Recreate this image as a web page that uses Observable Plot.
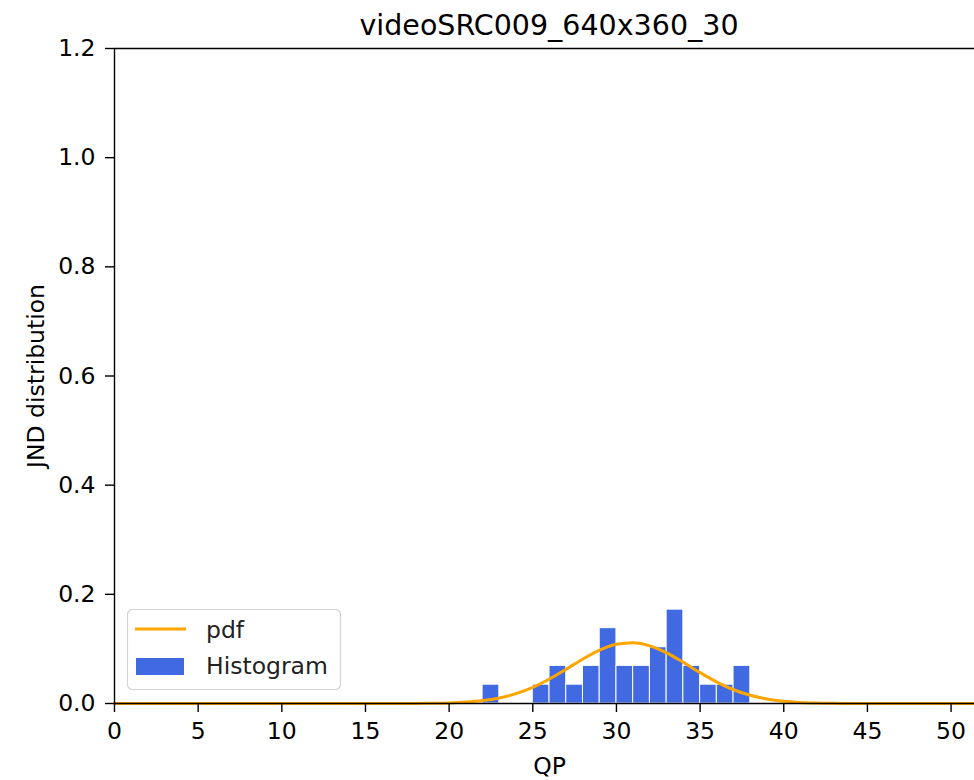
<!DOCTYPE html>
<html>
<head>
<meta charset="utf-8">
<script src="https://cdn.jsdelivr.net/npm/d3@7"></script>
<script src="https://cdn.jsdelivr.net/npm/@observablehq/plot@0.6"></script>
<style>
  html, body { margin: 0; padding: 0; background: #fff; overflow: hidden; }
  #wrap { position: relative; width: 974px; height: 780px; font-family: "DejaVu Sans", sans-serif; }
  #legend { position: absolute; left: 127px; top: 609px; }
</style>
</head>
<body>
<div id="wrap"></div>
<script>
const title = "videoSRC009_640x360_30";
const xLabel = "QP";
const yLabel = "JND distribution";
const xTicks = [0, 5, 10, 15, 20, 25, 30, 35, 40, 45, 50];
const yTicks = [0.0, 0.2, 0.4, 0.6, 0.8, 1.0, 1.2];
const legendLabels = ["pdf", "Histogram"];

// Histogram bins (width 1) and densities
const binStart = [22, 25, 26, 27, 28, 29, 30, 31, 32, 33, 34, 35, 36, 37];
const binEnd   = [23, 26, 27, 28, 29, 30, 31, 32, 33, 34, 35, 36, 37, 38];
const density  = [0.0345, 0.0345, 0.069, 0.0345, 0.069, 0.138, 0.069, 0.069, 0.103, 0.172, 0.069, 0.0345, 0.0345, 0.069];

// Fitted pdf curve
const pdfQP = [0, 10, 15, 16, 17, 18, 19, 20, 21, 22, 23, 24, 25, 26, 27, 28, 29, 30, 31, 32, 33, 34, 35, 36, 37, 38, 39, 40, 41, 42, 43, 44, 45, 46, 51.4];
const pdfVal = [0, 0, 0, 0.00001, 0.00005, 0.00018, 0.00047, 0.00114, 0.00257, 0.00532, 0.0102, 0.0180, 0.0296, 0.0448, 0.0629, 0.0815, 0.0978, 0.1085, 0.1113, 0.1056, 0.0927, 0.0753, 0.0565, 0.0393, 0.0252, 0.0150, 0.00824, 0.00419, 0.00197, 0.00086, 0.00034, 0.00013, 0.00004, 0.00001, 0];

const bars = binStart.map((s, i) => ({x1: s, x2: binEnd[i], y: density[i]}));
const pdf = pdfQP.map((q, i) => ({x: q, y: pdfVal[i]}));

const FS = 23.5;
const plot = Plot.plot({
  width: 974,
  height: 780,
  marginLeft: 114,
  marginRight: 0,
  marginTop: 48,
  marginBottom: 77,
  style: { fontFamily: "DejaVu Sans, sans-serif", fontSize: FS + "px", color: "#000", background: "#fff" },
  x: { domain: [0, 51.4], ticks: xTicks, tickFormat: d3.format("d"), label: null },
  y: { domain: [0, 1.2], ticks: yTicks, tickFormat: d3.format(".1f"), label: null },
  marks: [
    Plot.rectY(bars, {x1: "x1", x2: "x2", y: "y", fill: "#4169e1", stroke: "#ffffff", strokeWidth: 1, inset: 0}),
    Plot.line(pdf, {x: "x", y: "y", stroke: "#ffa500", strokeWidth: 3, curve: "monotone-x"}),
    Plot.ruleX([0], {stroke: "#000", strokeWidth: 1.4}),
    Plot.ruleY([0], {stroke: "#000", strokeWidth: 1.4}),
    Plot.ruleY([1.2], {stroke: "#000", strokeWidth: 1.4}),
    Plot.axisX({ticks: xTicks, tickSize: 9, tickPadding: 10, tickFormat: d3.format("d"), fontSize: FS, strokeWidth: 1.4, label: null}),
    Plot.axisY({ticks: yTicks, tickSize: 9, tickPadding: 10, tickFormat: d3.format(".1f"), fontSize: FS, strokeWidth: 1.4, label: null}),
    Plot.text([title], {frameAnchor: "top", lineAnchor: "middle", dy: -23, dx: 4.5, fontSize: 28.5, fill: "#000"}),
    Plot.text([xLabel], {frameAnchor: "bottom", lineAnchor: "middle", dy: 62.5, dx: 5, fontSize: FS, fill: "#000"}),
    Plot.text([yLabel], {frameAnchor: "left", textAnchor: "middle", lineAnchor: "middle", dx: -78, rotate: -90, fontSize: FS, fill: "#000"})
  ]
});

const wrap = document.getElementById("wrap");
wrap.appendChild(plot);

// Legend
const legend = document.createElement("div");
legend.id = "legend";
legend.innerHTML = `
  <svg width="216" height="84" style="display:block;font-family:'DejaVu Sans',sans-serif;font-size:${FS}px">
    <rect x="0.5" y="0.5" width="213" height="80" rx="5" ry="5" fill="#fff" fill-opacity="0.8" stroke="#d3d3d3" stroke-width="1.2"/>
    <line x1="8" x2="59" y1="20" y2="20" stroke="#ffa500" stroke-width="3"/>
    <rect x="9" y="49" width="48" height="17" fill="#4169e1"/>
    <text x="79" y="29" fill="#222">${legendLabels[0]}</text>
    <text x="79" y="65" fill="#222">${legendLabels[1]}</text>
  </svg>`;
wrap.appendChild(legend);
</script>
</body>
</html>
